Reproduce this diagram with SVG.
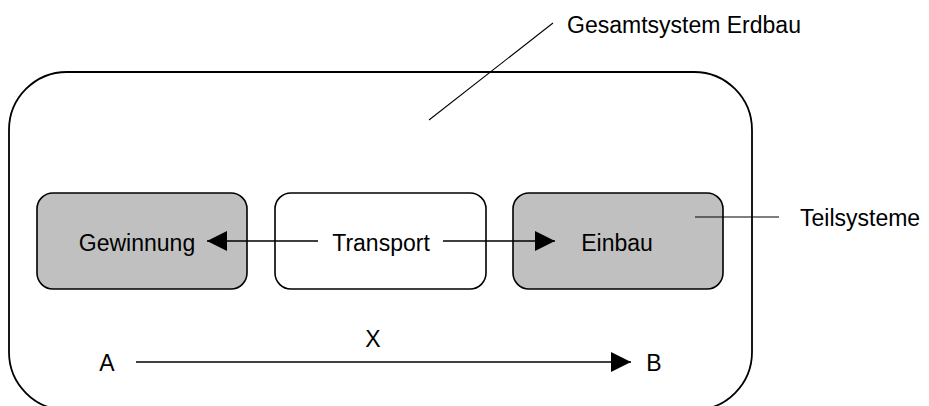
<svg xmlns="http://www.w3.org/2000/svg" width="929" height="406" viewBox="0 0 929 406">
  <style>
    text { font-family: "Liberation Sans", Arial, sans-serif; font-size: 23px; fill: #000; }
    .box { stroke: #000; stroke-width: 1.6; }
    .sub { fill: #c0c0c0; }
    .plain { fill: #fff; }
    .line { stroke: #000; stroke-width: 1.5; fill: none; }
    .thin { stroke: #000; stroke-width: 1.1; fill: none; }
  </style>
  <defs>
    <marker id="head" viewBox="0 0 20 20" refX="20" refY="10" markerWidth="20" markerHeight="20" markerUnits="userSpaceOnUse" orient="auto">
      <path d="M0,0 L20,10 L0,20 Z" fill="#000"/>
    </marker>
  </defs>
  <rect width="929" height="406" fill="#fff"/>

  <!-- overall system boundary -->
  <g id="gesamtsystem">
    <rect x="9" y="72" width="743" height="338" rx="58" ry="58" fill="none" stroke="#000" stroke-width="1.8"/>
    <text x="567" y="33">Gesamtsystem Erdbau</text>
  </g>

  <g id="gewinnung">
    <rect class="box sub" x="37" y="193" width="210" height="96" rx="16"/>
    <text x="137" y="251" text-anchor="middle">Gewinnung</text>
  </g>

  <g id="transport">
    <rect class="box plain" x="275" y="193" width="211" height="96" rx="16"/>
    <text x="381" y="251" text-anchor="middle">Transport</text>
  </g>

  <g id="einbau">
    <rect class="box sub" x="513" y="193" width="210" height="96" rx="16"/>
    <text x="617" y="251" text-anchor="middle">Einbau</text>
  </g>

  <g id="teilsysteme-label">
    <text x="800" y="226">Teilsysteme</text>
  </g>

  <g id="axis-labels">
    <text x="107" y="371" text-anchor="middle">A</text>
    <text x="373" y="347" text-anchor="middle">X</text>
    <text x="654" y="371" text-anchor="middle">B</text>
  </g>

  <g id="connectors">
    <line class="line" x1="318" y1="241" x2="207" y2="241" marker-end="url(#head)"/>
    <line class="line" x1="443" y1="241" x2="555" y2="241" marker-end="url(#head)"/>
    <line class="line" x1="136" y1="362" x2="631" y2="362" marker-end="url(#head)"/>
    <line class="thin" x1="429" y1="120" x2="553" y2="23"/>
    <line class="thin" x1="695" y1="217" x2="779" y2="217"/>
  </g>
</svg>
